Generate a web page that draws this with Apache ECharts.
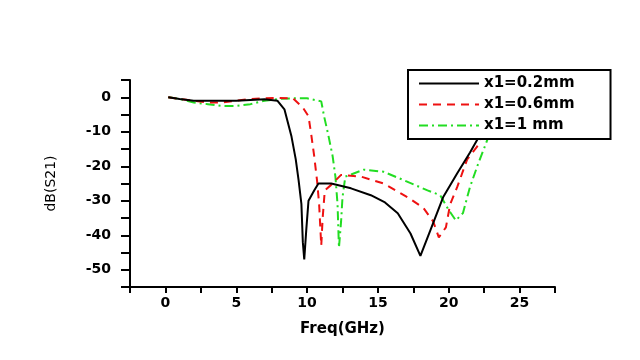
<!DOCTYPE html>
<html>
<head>
<meta charset="utf-8">
<script src="https://cdn.jsdelivr.net/npm/echarts@6/dist/echarts.min.js"></script>
<style>html,body{margin:0;padding:0;background:#fff;}#c{width:640px;height:360px;}</style>
</head>
<body>
<div id="c"></div>
<script>
// Series names
const seriesNames = ['x1=0.2mm', 'x1=0.6mm', 'x1=1 mm'];

// x1 = 0.2 mm
const freqA = [0.2,1,2,3,4,5,6,7,7.9,8.4,8.9,9.2,9.4,9.6,9.7,9.8,9.95,10.1,10.5,10.8,11.7,13.1,14.5,15.5,16.4,17.3,18.0,18.7,19.6,20.6,21.5,22.1,22.8];
const dbA   = [0,-0.5,-1,-1,-1,-1,-0.8,-0.6,-1,-3.5,-11.4,-18,-24,-31,-42,-47,-38,-30,-27,-25,-25,-26.4,-28.4,-30.5,-33.6,-39.5,-46,-38.6,-29,-22,-16,-11.7,-6];

// x1 = 0.6 mm
const freqB = [0.2,1,2,3,4,5,6,7,8,9,9.7,10.1,10.3,10.5,10.7,10.85,10.95,11.0,11.1,11.25,11.7,12.4,13.8,15.4,17.1,18.2,18.9,19.3,19.8,20.1,20.6,21.3,22.0,22.6];
const dbB   = [0,-0.5,-1,-1.5,-1.5,-1,-0.5,-0.3,-0.2,-0.3,-3,-5.5,-11,-17,-24,-31,-39,-43,-35,-27,-25.4,-22.5,-23,-25,-29,-32,-36,-40.6,-37.7,-31,-26,-18,-14.3,-8];

// x1 = 1 mm
const freqC = [0.2,1,2,3,4,5,6,7,8,9,10,11.0,11.2,11.5,11.8,12.0,12.15,12.25,12.4,12.5,12.7,14.0,15.4,16.8,18.5,19.4,20.0,20.5,21.0,21.5,22.1,22.6,23.1];
const dbC   = [0,-0.5,-1.5,-2,-2.5,-2.5,-2,-1,-0.5,-0.3,-0.3,-1.2,-5.5,-11,-17,-23,-31,-43.6,-36,-29,-23,-21,-21.6,-24,-27,-28.4,-32.7,-35.7,-33.6,-26,-19,-13.7,-8];

// Axis ticks
const xMin = -2.5, xMax = 27.5, xStep = 2.5, xLabelStep = 5;
const yMin = -55, yMax = 5, yStep = 5, yLabelStep = 10;

function pairs(xs, ys) { return xs.map((x, i) => [x, ys[i]]); }

const chart = echarts.init(document.getElementById('c'), null, {renderer: 'canvas'});
const labelFont = {color: '#000', fontSize: 14, fontWeight: 'bold', fontFamily: 'DejaVu Sans'};
chart.setOption({
  animation: false,
  backgroundColor: '#fff',
  grid: {left: 130, right: 85, top: 80, bottom: 73},
  legend: {
    show: true,
    orient: 'vertical', left: 408, top: 70,
    backgroundColor: '#fff', borderColor: '#000', borderWidth: 2,
    padding: [6, 36, 6, 10], itemGap: 6, itemWidth: 60, itemHeight: 14,
    itemStyle: {color: 'rgba(0,0,0,0)', borderWidth: 0},
    textStyle: {color: '#000', fontSize: 15, fontFamily: 'DejaVu Sans', fontWeight: 'bold'},
    data: seriesNames
  },
  xAxis: {
    type: 'value', min: xMin, max: xMax, interval: xStep,
    name: 'Freq(GHz)', nameLocation: 'middle', nameGap: 35,
    nameTextStyle: {color: '#000', fontSize: 15, fontWeight: 'bold', fontFamily: 'DejaVu Sans'},
    axisLine: {onZero: false, lineStyle: {color: '#000', width: 2}},
    axisTick: {inside: false, length: 6, lineStyle: {color: '#000', width: 2}},
    splitLine: {show: false},
    axisLabel: Object.assign({margin: 9,
      formatter: v => (Math.abs(v % xLabelStep) < 1e-9 ? String(v) : '')}, labelFont)
  },
  yAxis: {
    type: 'value', min: yMin, max: yMax, interval: yStep,
    name: 'dB(S21)', nameLocation: 'middle', nameGap: 72,
    nameTextStyle: {color: '#000', fontSize: 14, fontFamily: 'DejaVu Sans'},
    axisLine: {onZero: false, lineStyle: {color: '#000', width: 2}},
    axisTick: {inside: false, length: 9, lineStyle: {color: '#000', width: 2}},
    splitLine: {show: false},
    axisLabel: Object.assign({margin: 19,
      formatter: v => (Math.abs(v % yLabelStep) < 1e-9 ? String(v) : '')}, labelFont)
  },
  series: [
    {name: seriesNames[0], type: 'line', showSymbol: false, symbol: 'none', data: pairs(freqA, dbA),
     lineStyle: {color: '#000', width: 2, type: 'solid'}, itemStyle: {color: '#000'}, z: 3},
    {name: seriesNames[1], type: 'line', showSymbol: false, symbol: 'none', data: pairs(freqB, dbB),
     lineStyle: {color: '#ee1111', width: 2, type: [8, 6]}, itemStyle: {color: '#ee1111'}, z: 2},
    {name: seriesNames[2], type: 'line', showSymbol: false, symbol: 'none', data: pairs(freqC, dbC),
     lineStyle: {color: '#22dd22', width: 2, type: [9, 4, 2, 4]}, itemStyle: {color: '#22dd22'}, z: 1}
  ]
});
</script>
</body>
</html>
